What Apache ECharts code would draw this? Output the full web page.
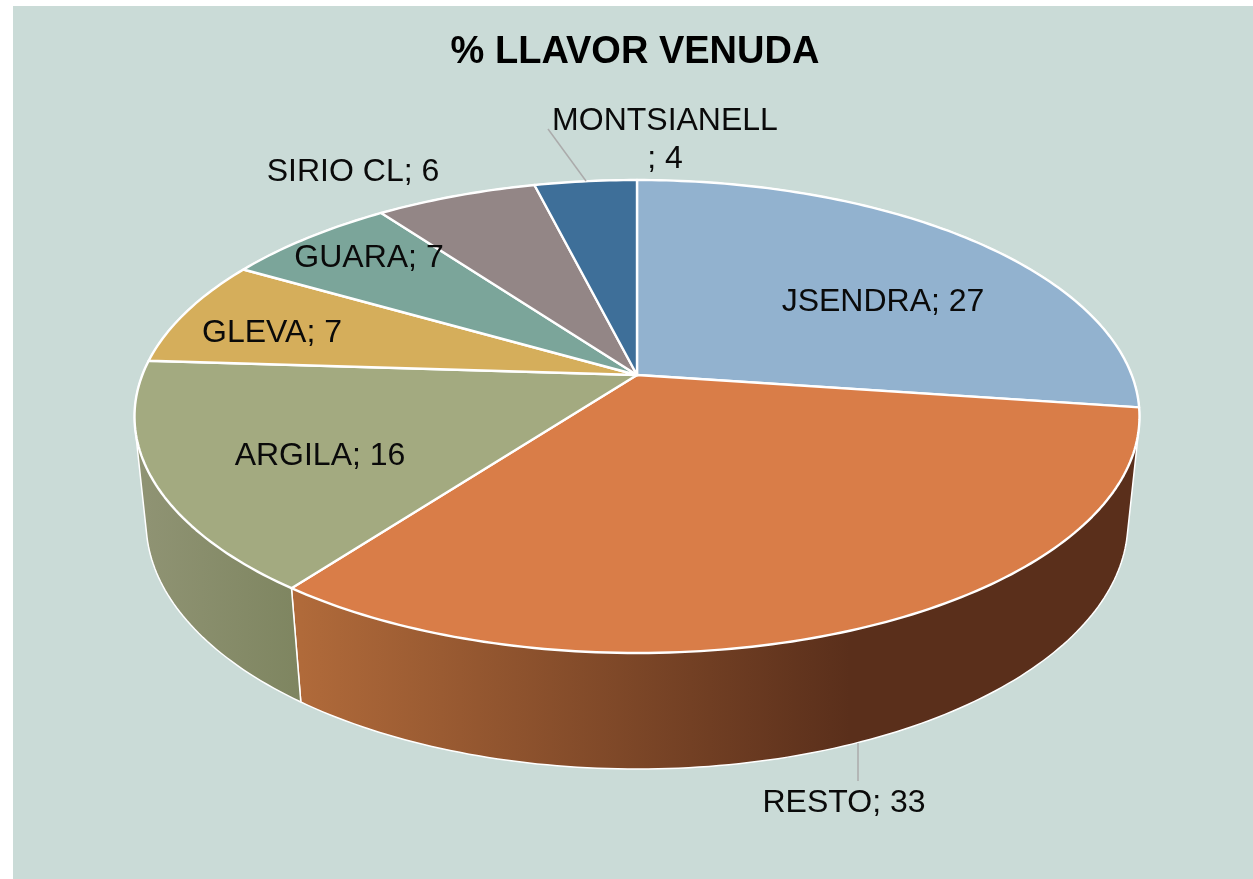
<!DOCTYPE html>
<html><head><meta charset="utf-8">
<style>html,body{margin:0;padding:0;background:#fff}#c{width:1253px;height:879px}</style>
<script src="https://cdn.jsdelivr.net/npm/echarts@6/dist/echarts.min.js"></script>
</head><body><div id="c"></div>
<script>
const categories = ['JSENDRA','RESTO','ARGILA','GLEVA','GUARA','SIRIO CL','MONTSIANELL'];
// Slice sizes; the labels show them rounded.
const values = [27.2,33.05,15.75,7.35,6.6,6.15,3.9];
const titleText = '% LLAVOR VENUDA';

const colors = ['#92B2CF','#D97D48','#A3AA80','#D5AE5B','#7BA59A','#938686','#3E6F99'];
const sideFills = [
  '#4A5F72',
  {type:'linear',x:301,y:0,x2:850,y2:0,global:true,colorStops:[{offset:0,color:'#B06A3A'},{offset:1,color:'#5A2F1B'}]},
  {type:'linear',x:146,y:0,x2:301,y2:0,global:true,colorStops:[{offset:0,color:'#8F9373'},{offset:1,color:'#7E8560'}]},
  '#7A6A40','#4E6B63','#5F5656','#2A4A66'
];
// Projection of the pie's circular faces
const FONT = '"Liberation Sans", Arial, sans-serif';
const TOP = {x0:637, y0:375, a:229.2, b:494.7, k:0.1755};
const BOT = {x0:637, y0:479.9, a:240, b:483.8, k:0.17};
const labelPos = [[883,302],[844,803],[320,456],[272,333],[369,258],[353,172],[665,140]];
const leaders = {1:[[858,743],[858,781]], 6:[[548,129],[586,181]]};

const total = values.reduce((a,b)=>a+b,0);
const cum = []; values.reduce((s,v,i)=>(cum[i]=s,s+v),0);
function project(P, frac){
  const t = frac*2*Math.PI, u = Math.sin(t), v = Math.cos(t), w = 1+P.k*v;
  return [P.x0+P.b*u/w, P.y0-P.a*v/w];
}
function arc(P, i){
  const pts=[], from=cum[i]/total, to=(cum[i]+values[i])/total, n=Math.max(8,Math.ceil((to-from)*360));
  for(let j=0;j<=n;j++) pts.push(project(P, from+(to-from)*j/n));
  return pts;
}
function hull(points){
  const p=points.slice().sort((a,b)=>a[0]-b[0]||a[1]-b[1]);
  const cross=(o,a,b)=>(a[0]-o[0])*(b[1]-o[1])-(a[1]-o[1])*(b[0]-o[0]);
  const lo=[],up=[];
  for(const q of p){while(lo.length>1&&cross(lo[lo.length-2],lo[lo.length-1],q)<=0)lo.pop();lo.push(q);}
  for(const q of p.slice().reverse()){while(up.length>1&&cross(up[up.length-2],up[up.length-1],q)<=0)up.pop();up.push(q);}
  return lo.slice(0,-1).concat(up.slice(0,-1));
}
const chart = echarts.init(document.getElementById('c'),null,{renderer:'canvas'});
chart.setOption({
  animation:false,
  title:{text:titleText,left:630,top:29,textAlign:'center',textStyle:{fontFamily:FONT,fontSize:38,fontWeight:'bold',color:'#000'}},
  graphic:[{type:'rect',z:-10,silent:true,shape:{x:13,y:6,width:1240,height:873},style:{fill:'#CADBD7'}}],
  series:[
    {type:'custom',coordinateSystem:'none',silent:true,z:1,data:values,
     renderItem(params){
       const i=params.dataIndex;
       return {type:'polygon',shape:{points:hull(arc(TOP,i).concat(arc(BOT,i)))},
               style:{fill:sideFills[i],stroke:'#fff',lineWidth:1.5,lineJoin:'round'}};
     }},
    {type:'custom',coordinateSystem:'none',silent:true,z:2,data:values,
     renderItem(params){
       const i=params.dataIndex;
       return {type:'polygon',shape:{points:[[TOP.x0,TOP.y0]].concat(arc(TOP,i))},
               style:{fill:colors[i],stroke:'#fff',lineWidth:2.4,lineJoin:'round'}};
     }},
    {type:'custom',coordinateSystem:'none',silent:true,z:3,data:values,
     renderItem(params,api){
       const i=params.dataIndex, kids=[];
       const name=categories[i], v=Math.round(api.value(0));
       if(leaders[i]) kids.push({type:'polyline',shape:{points:leaders[i]},style:{fill:null,stroke:'#ABABAB',lineWidth:1.5}});
       kids.push({type:'text',style:{
         text: name.length>10 ? name+'\n; '+v : name+'; '+v,
         x:labelPos[i][0],y:labelPos[i][1],align:'center',verticalAlign:'middle',
         font:'32px '+FONT,lineHeight:38,fill:'#0A0A0A'}});
       return {type:'group',children:kids};
     }}
  ]
});
</script></body></html>
